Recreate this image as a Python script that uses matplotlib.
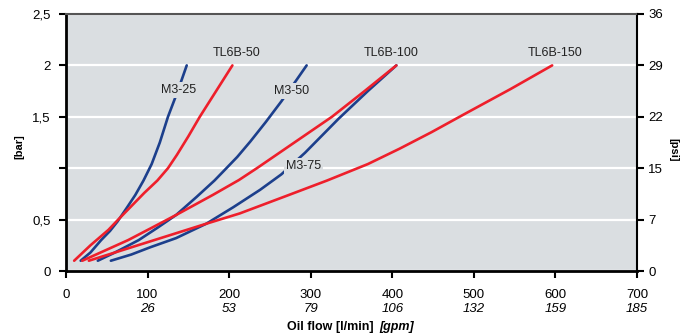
import matplotlib
matplotlib.use('Agg')
import matplotlib.pyplot as plt

plt.rcParams['font.family'] = ['Liberation Sans', 'DejaVu Sans']

# flow [l/min] vs pressure drop [bar]
m3_25_x = [18, 30, 43, 54, 63, 75, 85, 95, 105, 115, 125, 137, 148]
m3_25_y = [0.1, 0.18, 0.3, 0.39, 0.48, 0.62, 0.74, 0.88, 1.04, 1.25, 1.5, 1.75, 2.0]

m3_50_x = [39, 60, 89, 112, 135, 160, 182, 193, 210, 226, 245, 264, 281, 295]
m3_50_y = [0.1, 0.18, 0.3, 0.42, 0.545, 0.72, 0.88, 0.97, 1.11, 1.26, 1.45, 1.65, 1.84, 2.0]

m3_75_x = [55, 80, 103, 135, 172, 205, 238, 264, 293, 334, 370, 405]
m3_75_y = [0.1, 0.16, 0.23, 0.32, 0.46, 0.62, 0.79, 0.94, 1.15, 1.48, 1.75, 2.0]

tl_50_x = [10, 30, 52, 64, 80, 96, 112, 125, 136, 150, 164, 184, 204]
tl_50_y = [0.1, 0.25, 0.4, 0.5, 0.63, 0.76, 0.88, 1.0, 1.13, 1.31, 1.5, 1.75, 2.0]

tl_100_x = [20, 48, 76, 105, 135, 180, 212, 234, 280, 326, 366, 405]
tl_100_y = [0.1, 0.2, 0.3, 0.42, 0.545, 0.74, 0.885, 1.0, 1.25, 1.5, 1.75, 2.0]

tl_150_x = [28, 68, 108, 140, 172, 213, 270, 320, 370, 409, 448, 487, 545, 596]
tl_150_y = [0.1, 0.2, 0.3, 0.38, 0.46, 0.56, 0.73, 0.88, 1.04, 1.19, 1.35, 1.52, 1.77, 2.0]

labels = ['M3-25', 'M3-50', 'M3-75', 'TL6B-50', 'TL6B-100', 'TL6B-150']
label_pos = [(138, 1.76), (277, 1.75), (291, 1.02), (209, 2.12), (399, 2.12), (599, 2.12)]

x_ticks = [0, 100, 200, 300, 400, 500, 600, 700]
gpm = ['', '26', '53', '79', '106', '132', '159', '185']
bar_ticks = [0, 0.5, 1, 1.5, 2, 2.5]
bar_labels = ['0', '0,5', '', '1,5', '2', '2,5']
psi_labels = ['0', '7', '15', '22', '29', '36']

blue = '#1c3f8c'
red = '#ee1f2b'
bg = '#dadee1'

fig = plt.figure(figsize=(6.97, 3.36), dpi=100)
ax = fig.add_axes([66 / 697, 1 - 271 / 336, 571 / 697, 257 / 336])
ax.set_facecolor(bg)

lw = 1.9
ax.plot(m3_25_x, m3_25_y, color=blue, lw=lw, solid_capstyle='round', zorder=3)
ax.plot(m3_50_x, m3_50_y, color=blue, lw=lw, solid_capstyle='round', zorder=3)
ax.plot(m3_75_x, m3_75_y, color=blue, lw=lw, solid_capstyle='round', zorder=3)
ax.plot(tl_50_x, tl_50_y, color=red, lw=lw, solid_capstyle='round', zorder=4)
ax.plot(tl_100_x, tl_100_y, color=red, lw=lw, solid_capstyle='round', zorder=4)
ax.plot(tl_150_x, tl_150_y, color=red, lw=lw, solid_capstyle='round', zorder=4)

for name, (lx, ly) in zip(labels, label_pos):
    ax.text(lx, ly, name, fontsize=9, ha='center', va='center', color='#222222', zorder=6,
            bbox=dict(facecolor=bg, edgecolor='none', pad=1.5))

ax.set_xlim(0, 700)
ax.set_ylim(0, 2.5)
ax.set_axisbelow(True)
ax.yaxis.grid(True, color='white', lw=1.6)

ax.set_xticks(x_ticks)
ax.set_xticklabels([str(v) for v in x_ticks], fontsize=9.5)
ax.set_yticks(bar_ticks)
ax.set_yticklabels(bar_labels, fontsize=9.5)
ax.tick_params(axis='x', length=5, width=1.5, pad=8, color='black')
ax.tick_params(axis='y', length=5, width=1.5, pad=6, color='black')

for xv, g in zip(x_ticks, gpm):
    ax.annotate(g, xy=(xv, 0), xycoords=('data', 'axes fraction'), xytext=(0, -38),
                textcoords='offset pixels', ha='center', va='center',
                fontsize=9.5, style='italic')

ax.spines['left'].set_linewidth(2)
ax.spines['bottom'].set_linewidth(2)
ax.spines['top'].set_color('#555555')
ax.spines['top'].set_linewidth(1.5)
ax.spines['right'].set_linewidth(1.5)

ax2 = ax.twinx()
ax2.set_ylim(0, 2.5)
ax2.set_yticks(bar_ticks)
ax2.set_yticklabels(psi_labels, fontsize=9.5)
ax2.tick_params(axis='y', length=5, width=1.5, pad=3)
for s in ax2.spines.values():
    s.set_visible(False)

fig.text(19 / 697, 1 - 147 / 336, '[bar]', rotation=90, fontsize=8, fontweight='bold',
         ha='center', va='center')
fig.text(673 / 697, 1 - 150 / 336, '[psi]', rotation=270, fontsize=8, fontweight='bold',
         ha='center', va='center')
fig.text(374 / 697, 1 - 327 / 336, 'Oil flow [l/min]', fontsize=9, fontweight='bold',
         ha='right', va='center')
fig.text(379 / 697, 1 - 327 / 336, '[gpm]', fontsize=9, fontweight='bold', style='italic',
         ha='left', va='center')

fig.savefig('out.png', dpi=100)
